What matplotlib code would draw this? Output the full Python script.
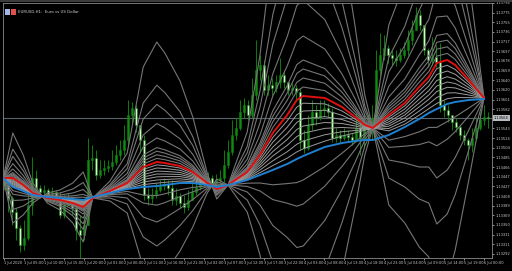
import datetime
import matplotlib
matplotlib.use("Agg")
import matplotlib.pyplot as plt
import numpy as np
from matplotlib.patches import Rectangle

# EURUSD H1 bars (open of each bar = previous close)
first_open = 1.13440
closes = [1.13430, 1.13404, 1.13376, 1.13344, 1.13310, 1.13324, 1.13390, 1.13444, 1.13424, 1.13416,
          1.13420, 1.13412, 1.13416, 1.13408, 1.13370, 1.13390, 1.13400, 1.13384, 1.13340, 1.13330,
          1.13350, 1.13480, 1.13484, 1.13450, 1.13460, 1.13464, 1.13468, 1.13476, 1.13490, 1.13500,
          1.13520, 1.13570, 1.13584, 1.13550, 1.13520, 1.13410, 1.13404, 1.13410, 1.13420, 1.13428,
          1.13432, 1.13424, 1.13400, 1.13408, 1.13394, 1.13386, 1.13400, 1.13416, 1.13426, 1.13436,
          1.13440, 1.13444, 1.13434, 1.13440, 1.13444, 1.13470, 1.13496, 1.13530, 1.13544, 1.13576,
          1.13590, 1.13570, 1.13610, 1.13660, 1.13670, 1.13620, 1.13630, 1.13624, 1.13636, 1.13650,
          1.13636, 1.13620, 1.13624, 1.13616, 1.13520, 1.13504, 1.13550, 1.13576, 1.13564, 1.13580,
          1.13584, 1.13576, 1.13524, 1.13530, 1.13524, 1.13530, 1.13526, 1.13520, 1.13544, 1.13524,
          1.13550, 1.13540, 1.13564, 1.13660, 1.13690, 1.13704, 1.13690, 1.13684, 1.13680, 1.13690,
          1.13700, 1.13720, 1.13740, 1.13770, 1.13750, 1.13700, 1.13680, 1.13686, 1.13676, 1.13590,
          1.13580, 1.13570, 1.13556, 1.13546, 1.13530, 1.13520, 1.13510, 1.13524, 1.13544, 1.13560,
          1.13566, 1.13564]
highs = [1.13444, 1.13432, 1.13408, 1.13384, 1.13350, 1.13360, 1.13430, 1.13486, 1.13460, 1.13430,
         1.13430, 1.13424, 1.13426, 1.13420, 1.13416, 1.13410, 1.13414, 1.13404, 1.13390, 1.13370,
         1.13390, 1.13524, 1.13510, 1.13500, 1.13480, 1.13480, 1.13480, 1.13500, 1.13510, 1.13520,
         1.13550, 1.13600, 1.13596, 1.13590, 1.13550, 1.13530, 1.13424, 1.13424, 1.13434, 1.13440,
         1.13444, 1.13440, 1.13440, 1.13424, 1.13414, 1.13410, 1.13420, 1.13434, 1.13444, 1.13450,
         1.13452, 1.13456, 1.13450, 1.13452, 1.13460, 1.13500, 1.13520, 1.13560, 1.13564, 1.13600,
         1.13604, 1.13600, 1.13644, 1.13720, 1.13690, 1.13680, 1.13650, 1.13644, 1.13650, 1.13684,
         1.13660, 1.13636, 1.13634, 1.13630, 1.13624, 1.13540, 1.13570, 1.13600, 1.13590, 1.13600,
         1.13600, 1.13594, 1.13584, 1.13544, 1.13540, 1.13544, 1.13540, 1.13534, 1.13574, 1.13560,
         1.13574, 1.13570, 1.13590, 1.13700, 1.13734, 1.13730, 1.13710, 1.13700, 1.13700, 1.13704,
         1.13716, 1.13740, 1.13760, 1.13786, 1.13780, 1.13740, 1.13704, 1.13726, 1.13710, 1.13714,
         1.13600, 1.13590, 1.13570, 1.13564, 1.13550, 1.13540, 1.13524, 1.13544, 1.13566, 1.13576,
         1.13590, 1.13576]
lows = [1.13420, 1.13376, 1.13350, 1.13320, 1.13296, 1.13300, 1.13320, 1.13370, 1.13410, 1.13404,
        1.13408, 1.13404, 1.13406, 1.13400, 1.13364, 1.13364, 1.13390, 1.13370, 1.13320, 1.13284,
        1.13320, 1.13350, 1.13460, 1.13440, 1.13444, 1.13450, 1.13456, 1.13460, 1.13470, 1.13480,
        1.13490, 1.13510, 1.13550, 1.13536, 1.13494, 1.13400, 1.13390, 1.13394, 1.13404, 1.13416,
        1.13420, 1.13410, 1.13390, 1.13390, 1.13384, 1.13374, 1.13380, 1.13400, 1.13410, 1.13420,
        1.13428, 1.13430, 1.13424, 1.13428, 1.13432, 1.13436, 1.13464, 1.13490, 1.13520, 1.13540,
        1.13564, 1.13560, 1.13564, 1.13600, 1.13640, 1.13610, 1.13610, 1.13610, 1.13616, 1.13624,
        1.13624, 1.13610, 1.13610, 1.13600, 1.13500, 1.13494, 1.13500, 1.13540, 1.13550, 1.13560,
        1.13566, 1.13564, 1.13516, 1.13516, 1.13514, 1.13520, 1.13516, 1.13510, 1.13516, 1.13490,
        1.13504, 1.13520, 1.13520, 1.13560, 1.13650, 1.13680, 1.13674, 1.13670, 1.13668, 1.13676,
        1.13684, 1.13690, 1.13710, 1.13740, 1.13740, 1.13690, 1.13666, 1.13670, 1.13666, 1.13576,
        1.13566, 1.13556, 1.13540, 1.13536, 1.13520, 1.13510, 1.13480, 1.13496, 1.13520, 1.13540,
        1.13550, 1.13544]

# indicator lines, sampled at bar positions
knot_x = [-0.2, 2.2, 4.8, 7.2, 10.8, 14, 17.2, 19.8, 22.2, 26.5, 30.8, 34.8, 38.2, 40.2, 44,
          47.2, 50.8, 53.2, 56, 60.8, 64, 67.2, 70.8, 73.2, 74.8, 80.2, 84.5, 87.8, 90.2, 92.2,
          96.2, 100.2, 103.8, 106.2, 108.2, 110.8, 112.8, 116.2, 120]
red_line = [1.13444, 1.13444, 1.13430, 1.13414, 1.13404, 1.13400, 1.13394, 1.13386, 1.13404, 1.13418,
            1.13434, 1.13466, 1.13476, 1.13474, 1.13468, 1.13456, 1.13434, 1.13422, 1.13430, 1.13456,
            1.13490, 1.13534, 1.13570, 1.13600, 1.13608, 1.13604, 1.13586, 1.13566, 1.13550, 1.13544,
            1.13570, 1.13594, 1.13626, 1.13646, 1.13674, 1.13680, 1.13670, 1.13640, 1.13604]
blue_line = [1.13444, 1.13426, 1.13418, 1.13410, 1.13406, 1.13404, 1.13402, 1.13400, 1.13406, 1.13414,
             1.13422, 1.13426, 1.13428, 1.13430, 1.13434, 1.13434, 1.13430, 1.13426, 1.13430, 1.13440,
             1.13450, 1.13460, 1.13472, 1.13482, 1.13488, 1.13506, 1.13514, 1.13518, 1.13520, 1.13520,
             1.13530, 1.13546, 1.13562, 1.13574, 1.13582, 1.13592, 1.13596, 1.13600, 1.13602]
fan_base = [1.13444, 1.13426, 1.13418, 1.13410, 1.13406, 1.13404, 1.13402, 1.13400, 1.13404, 1.13414,
            1.13422, 1.13426, 1.13428, 1.13430, 1.13434, 1.13434, 1.13430, 1.13426, 1.13430, 1.13440,
            1.13450, 1.13460, 1.13472, 1.13482, 1.13488, 1.13506, 1.13520, 1.13530, 1.13538, 1.13544,
            1.13534, 1.13546, 1.13562, 1.13574, 1.13582, 1.13592, 1.13596, 1.13600, 1.13604]
fan_inner = [0.12, 0.25, 0.38, 0.5, 0.62, 0.75, 0.88]
fan_outer = [1.15, 1.3, 1.45, 1.6, 2.0, 2.6, 3.4, 4.2, 6.0, -0.4, -0.8, -1.5, -2.5, -4.0]

bid = 1.13564
start = datetime.datetime(2020, 7, 1, 0, 0)

fig = plt.figure(figsize=(5.12, 2.71), dpi=100, facecolor="black")
ax = fig.add_axes([3 / 512, 13 / 271, 489 / 512, 255 / 271], facecolor="black")

n = len(closes)
opens = [first_open] + closes[:-1]
for i in range(n):
    o, c = opens[i], closes[i]
    hi = max(highs[i], o, c)
    lo = min(lows[i], o, c)
    ax.vlines(i, lo, hi, color="#0c7e0c", lw=0.7, zorder=2)
    body = abs(c - o) if abs(c - o) > 0.000015 else 0.000015
    face = "#128a12" if c >= o else "#d6f3cc"
    ax.add_patch(Rectangle((i - 0.26, min(o, c)), 0.52, body, facecolor=face,
                           edgecolor="#0c7e0c", lw=0.4, zorder=3))

kx = np.array(knot_x)
red = np.array(red_line)
base = np.array(fan_base)
for f in fan_outer:
    ax.plot(kx, base + f * (red - base), color="#767676", lw=0.8, zorder=4)
for f in fan_inner:
    ax.plot(kx, base + f * (red - base), color="#9c9c9c", lw=0.7, zorder=4)
ax.plot(kx, red_line, color="#e01010", lw=1.4, zorder=5)
ax.plot(kx, blue_line, color="#2080d0", lw=1.4, zorder=5)

ax.axhline(bid, color="#5a626a", lw=0.8, zorder=1)

ax.set_xlim(-0.25, 122)
ax.set_ylim(1.13284, 1.13794)

yt = 1.13794 - 0.000193 * np.arange(27)
ax.yaxis.tick_right()
ax.set_yticks(yt)
ax.set_yticklabels([f"{v:.5f}" for v in yt])
xt = list(range(0, n, 5))
xl = []
for i in xt:
    d = start + datetime.timedelta(hours=i)
    xl.append(f"{d.day} {d:%b %Y}" if i == 0 else f"{d.day} {d:%b %H:%M}")
ax.set_xticks(xt)
ax.set_xticklabels(xl, ha="left")
ax.tick_params(colors="#c8c8c8", labelsize=2.6, length=1.5, width=0.5, pad=1)
for s in ax.spines.values():
    s.set_color("#8a8a8a")
    s.set_linewidth(0.6)

ax.text(1.004, bid, f"{bid:.5f}", transform=ax.get_yaxis_transform(), fontsize=2.6,
        color="black", va="center", ha="left",
        bbox=dict(facecolor="#b8bcc0", edgecolor="none", pad=0.6), zorder=6)

# window frame and symbol caption
fig.patches.append(Rectangle((0, 269 / 271), 1, 2 / 271, transform=fig.transFigure,
                             facecolor="#3c3c3c", edgecolor="none"))
fig.patches.append(Rectangle((5 / 512, 256 / 271), 5 / 512, 6 / 271, transform=fig.transFigure,
                             facecolor="#9fb8e8", edgecolor="none"))
fig.patches.append(Rectangle((11 / 512, 256 / 271), 5 / 512, 6 / 271, transform=fig.transFigure,
                             facecolor="#e05050", edgecolor="none"))
fig.text(18 / 512, 259 / 271, "EURUSD,H1:  Euro vs US Dollar", fontsize=2.8, color="#d0d0d0",
         va="center", ha="left")

fig.savefig("out.png", dpi=100, facecolor="black")
